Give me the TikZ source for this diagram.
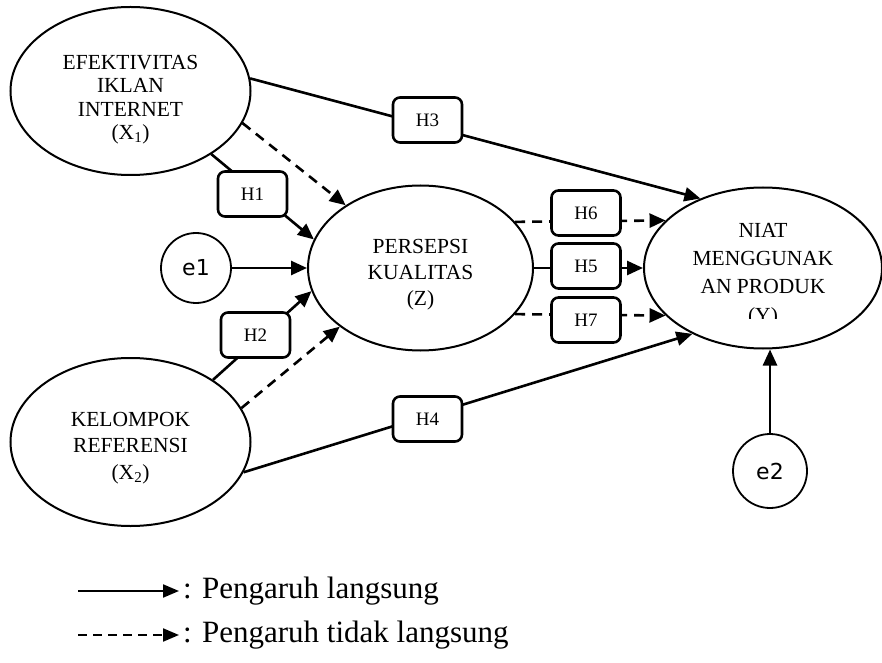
\documentclass[tikz,border=0pt]{standalone}
\usepackage{fontspec}
\setmainfont{Liberation Serif}
\newfontfamily\sansf{DejaVu Sans}
\usetikzlibrary{arrows.meta,shapes.geometric}
\begin{document}
\begin{tikzpicture}[x=1pt,y=1pt,
  latent/.style={ellipse, draw, line width=2pt, inner sep=0pt},
  errc/.style={circle, draw, line width=1.8pt, inner sep=0pt, font=\sansf\fontsize{22}{26}\selectfont},
  hbox/.style={rectangle, rounded corners=7pt, draw, line width=2.6pt, fill=white, minimum width=69pt, minimum height=45pt, inner sep=0pt, font=\fontsize{19}{22}\selectfont},
  conn/.style={line width=2.6pt, -{Triangle[length=16pt,width=14pt]}},
  ind/.style={conn, dash pattern=on 10pt off 7pt},
  lbl/.style={align=center, inner sep=0pt},
]
\useasboundingbox (0,0) rectangle (882,662);

% latent variables
\node[latent, minimum width=240pt, minimum height=168pt] (X1) at (130.5,571) {};
\node[latent, minimum width=240pt, minimum height=168pt] (X2) at (130.5,220) {};
\node[latent, minimum width=225pt, minimum height=165pt] (Z) at (420.5,394) {};
\node[latent, minimum width=238pt, minimum height=161pt] (Y) at (763,394) {};
\node[errc, minimum size=70pt] (e1) at (196,394) {e1};
\node[errc, minimum size=74pt] (e2) at (770,191) {e2};

% texts
\node[lbl, font=\fontsize{21.5}{23.5}\selectfont] (X1t) at (130.5,562.5) {EFEKTIVITAS\\IKLAN\\INTERNET\\(X\textsubscript{1})};
\node[lbl, font=\fontsize{21.5}{26.5}\selectfont] (X2t) at (130.5,214) {KELOMPOK\\REFERENSI\\(X\textsubscript{2})};
\node[lbl, font=\fontsize{21.5}{26}\selectfont] (Zt) at (420.5,387) {PERSEPSI\\KUALITAS\\(Z)};
\begin{scope}
\clip (600,344) rectangle (882,480);
\node[lbl, font=\fontsize{21.5}{28.3}\selectfont] (Yt) at (763,387) {NIAT\\MENGGUNAK\\AN PRODUK\\(Y)};
\end{scope}

% connectors
\draw[conn] (X1.6.7) -- (Y.132.2);
\draw[conn] (X1.-38.8) -- (Z.165.2);
\draw[ind] (X1.-16) -- (Z.140.6);
\draw[conn] (e1) -- (Z);
\draw[conn] (X2.37.3) -- (Z.192.3);
\draw[ind] (X2.17.2) -- (Z.216.7);
\draw[conn] (X2.-15.4) -- (Y.223.8);
\draw[ind] (Z.26.7) -- (Y.154);
\draw[conn] (Z) -- (Y);
\draw[ind] (Z.-26.7) -- (Y.206);
\draw[conn] (e2) -- (e2 |- Y.south);

% hypothesis boxes
\node[hbox] (H1) at (252.5,468) {H1};
\node[hbox] (H2) at (255.5,327) {H2};
\node[hbox] (H3) at (427.5,542) {H3};
\node[hbox] (H4) at (427.5,243) {H4};
\node[hbox] (H6) at (586,449) {H6};
\node[hbox] (H5) at (586,396) {H5};
\node[hbox] (H7) at (586,342) {H7};

% legend
\coordinate (L1a) at (78,71);
\coordinate (L1b) at (179,71);
\coordinate (L2a) at (78,27);
\coordinate (L2b) at (179,27);
\draw[line width=2.2pt, -{Triangle[length=16pt,width=13pt]}] (L1a) -- (L1b);
\draw[line width=2.2pt, dash pattern=on 9pt off 6pt, -{Triangle[length=16pt,width=13pt]}] (L2a) -- (L2b);
\node[anchor=west, inner sep=0pt, font=\fontsize{31}{35}\selectfont] (leg1) at (183,71) {: Pengaruh langsung};
\node[anchor=west, inner sep=0pt, font=\fontsize{31}{35}\selectfont] (leg2) at (183,27) {: Pengaruh tidak langsung};
\end{tikzpicture}
\end{document}
